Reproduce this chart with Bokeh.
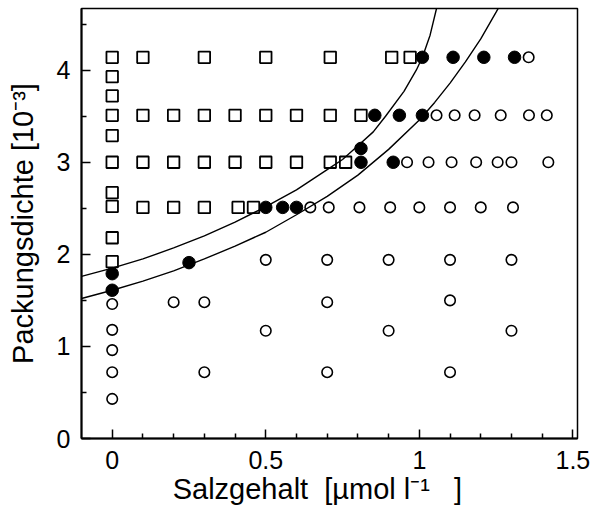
from bokeh.plotting import figure
from bokeh.models import FixedTicker
from bokeh.embed import file_html
from bokeh.resources import INLINE

# ---- data ----
# open squares
sq_x = [0, 0, 0, 0, 0, 0, 0, 0, 0, 0,
        0.10, 0.30, 0.50, 0.71, 0.91, 0.97,
        0.10, 0.20, 0.30, 0.40, 0.50, 0.60, 0.71, 0.81,
        0.10, 0.20, 0.30, 0.40, 0.50, 0.60, 0.71, 0.76,
        0.10, 0.20, 0.30, 0.41, 0.46]
sq_y = [1.92, 2.18, 2.52, 2.67, 3.00, 3.29, 3.51, 3.72, 3.93, 4.14,
        4.14, 4.14, 4.14, 4.14, 4.14, 4.14,
        3.51, 3.51, 3.51, 3.51, 3.51, 3.51, 3.51, 3.51,
        3.00, 3.00, 3.00, 3.00, 3.00, 3.00, 3.00, 3.00,
        2.51, 2.51, 2.51, 2.51, 2.51]

# filled circles
fc_x = [0, 0, 0.25, 0.50, 0.555, 0.60, 0.81, 0.81, 0.915,
        0.855, 0.935, 1.01, 1.01, 1.11, 1.21, 1.31]
fc_y = [1.61, 1.79, 1.91, 2.51, 2.51, 2.51, 3.00, 3.15, 3.00,
        3.51, 3.51, 3.51, 4.14, 4.14, 4.14, 4.14]

# open circles
oc_x = [0, 0, 0, 0, 0,
        0.30, 0.70, 1.10,
        0.50, 0.90, 1.30,
        0.20, 0.30, 0.70, 1.10,
        0.50, 0.70, 0.90, 1.10, 1.30,
        0.645, 0.705, 0.805, 0.905, 1.00, 1.10, 1.20, 1.305,
        0.96, 1.03, 1.105, 1.185, 1.255, 1.30, 1.42,
        1.056, 1.115, 1.18, 1.265, 1.357, 1.415,
        1.356]
oc_y = [0.43, 0.72, 0.96, 1.18, 1.46,
        0.72, 0.72, 0.72,
        1.17, 1.17, 1.17,
        1.48, 1.48, 1.48, 1.50,
        1.94, 1.94, 1.94, 1.94, 1.94,
        2.51, 2.51, 2.51, 2.51, 2.51, 2.51, 2.51, 2.51,
        3.00, 3.00, 3.00, 3.00, 3.00, 3.00, 3.00,
        3.51, 3.51, 3.51, 3.51, 3.51, 3.51,
        4.14]

# boundary curves
upper_x = [-0.10, 0.00, 0.10, 0.20, 0.30, 0.40, 0.49, 0.60, 0.70, 0.75,
           0.80, 0.85, 0.89, 0.95, 0.99, 1.01, 1.035, 1.056]
upper_y = [1.76, 1.85, 1.95, 2.07, 2.20, 2.35, 2.50, 2.70, 2.92, 3.03,
           3.18, 3.33, 3.50, 3.77, 4.00, 4.14, 4.38, 4.67]
lower_x = [-0.10, 0.00, 0.10, 0.20, 0.30, 0.40, 0.50, 0.60, 0.70, 0.80,
           0.90, 1.00, 1.05, 1.10, 1.15, 1.20, 1.25, 1.26]
lower_y = [1.52, 1.61, 1.71, 1.82, 1.95, 2.09, 2.24, 2.43, 2.63, 2.86,
           3.14, 3.46, 3.65, 3.86, 4.09, 4.34, 4.63, 4.69]

x_major = [0, 0.5, 1, 1.5]
x_minor = [0.1, 0.2, 0.3, 0.4, 0.6, 0.7, 0.8, 0.9, 1.1, 1.2, 1.3, 1.4]
y_major = [0, 1, 2, 3, 4]
y_minor = [0.5, 1.5, 2.5, 3.5, 4.5]

NB = "\u00a0"
x_label = "Salzgehalt" + NB + " [µmol l⁻¹" + NB * 3 + "]" + NB * 3
y_label = "Packungsdichte [10⁻³]"

FONT = "Liberation Sans"

p = figure(width=590, height=508, x_range=(-0.1, 1.515), y_range=(0, 4.67),
           output_backend="svg", toolbar_location=None,
           min_border_left=81, min_border_right=13, min_border_top=8,
           min_border_bottom=70)
p.background_fill_color = "white"
p.border_fill_color = "white"
p.grid.visible = False
p.outline_line_color = "black"
p.outline_line_width = 1.5

for ax in (p.xaxis[0], p.yaxis[0]):
    ax.axis_line_width = 2
    ax.axis_line_color = "black"
    ax.major_tick_in = 9
    ax.major_tick_out = 0
    ax.minor_tick_in = 5
    ax.minor_tick_out = 0
    ax.major_tick_line_width = 1.5
    ax.minor_tick_line_width = 1.5
    ax.major_tick_line_color = "black"
    ax.minor_tick_line_color = "black"
    ax.major_label_text_font = FONT
    ax.major_label_text_font_size = "25px"
    ax.major_label_text_color = "black"
    ax.axis_label_text_font = FONT
    ax.axis_label_text_font_size = "29px"
    ax.axis_label_text_font_style = "normal"
    ax.axis_label_text_color = "black"

p.xaxis.ticker = FixedTicker(ticks=x_major, minor_ticks=x_minor)
p.yaxis.ticker = FixedTicker(ticks=y_major, minor_ticks=y_minor)
p.xaxis.major_label_overrides = {0: "0", 0.5: "0.5", 1: "1", 1.5: "1.5"}
p.xaxis.axis_label = x_label
p.yaxis.axis_label = y_label
p.xaxis.major_label_standoff = 12
p.xaxis.axis_label_standoff = 1
p.yaxis.major_label_standoff = 11
p.yaxis.axis_label_standoff = 15

p.line(upper_x, upper_y, line_color="black", line_width=1.4)
p.line(lower_x, lower_y, line_color="black", line_width=1.4)

p.scatter(sq_x, sq_y, marker="square", size=11.5, fill_color=None,
          line_color="black", line_width=1.8)
p.scatter(oc_x, oc_y, marker="circle", size=10.5, fill_color=None,
          line_color="black", line_width=1.6)
p.scatter(fc_x, fc_y, marker="circle", size=12.5, fill_color="black",
          line_color="black", line_width=1)

open("out.html", "w").write(file_html(p, INLINE))
